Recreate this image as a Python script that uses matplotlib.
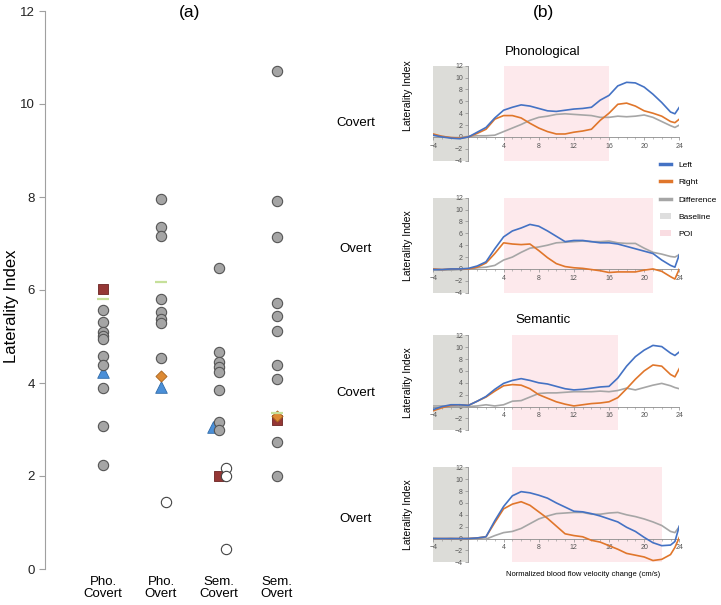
import numpy as np
import matplotlib
matplotlib.use("Agg")
import matplotlib.pyplot as plt
from matplotlib.lines import Line2D
from matplotlib.patches import Patch, Rectangle
from matplotlib.ticker import FixedLocator, MultipleLocator

plt.rcParams['font.family'] = ['Liberation Sans', 'DejaVu Sans']

# ---------------- panel (a): individual laterality indices ----------------
categories = ['Pho.\nCovert', 'Pho.\nOvert', 'Sem.\nCovert', 'Sem.\nOvert']

pho_covert_li = [5.58, 5.31, 5.10, 5.02, 4.94, 4.58, 4.39, 3.89, 3.08, 2.24]
pho_overt_li = [7.95, 7.36, 7.16, 5.80, 5.53, 5.37, 5.28, 4.53]
sem_covert_li = [6.48, 4.67, 4.46, 4.35, 4.24, 3.86, 3.17, 2.99]
sem_overt_li = [10.70, 7.92, 7.15, 5.71, 5.45, 5.12, 4.39, 4.08, 2.74, 1.99]
subject_li = [pho_covert_li, pho_overt_li, sem_covert_li, sem_overt_li]

right_lat_li = [[], [1.45], [2.18, 1.99, 0.44], []]   # open circles
triangle_li = [4.24, 3.92, 3.06, np.nan]
diamond_li = [np.nan, 4.14, np.nan, 3.28]
square_li = [6.02, np.nan, 1.99, 3.20]
mean_li = [5.81, 6.17, np.nan, 3.36]

# ---------------- panel (b): LI time courses ----------------
t = [-4, -3, -2, -1, 0, 1, 2, 3, 4, 5, 6, 7, 8, 9, 10, 11, 12, 13, 14, 15,
     16, 17, 18, 19, 20, 21, 22, 23, 23.5, 24]

pho_cov_left = [0.3, 0.0, -0.2, -0.3, 0.0, 0.8, 1.6, 3.2, 4.5, 5.0, 5.4, 5.2, 4.8, 4.4, 4.3,
                4.5, 4.7, 4.8, 5.0, 6.2, 7.0, 8.6, 9.2, 9.1, 8.4, 7.2, 5.8, 4.2, 3.9, 5.0]
pho_cov_right = [0.5, 0.1, -0.1, -0.2, 0.0, 0.6, 1.3, 3.0, 3.6, 3.6, 3.2, 2.3, 1.5, 0.9, 0.5,
                 0.5, 0.8, 1.0, 1.3, 2.8, 4.0, 5.5, 5.7, 5.2, 4.4, 4.0, 3.5, 2.6, 2.4, 3.0]
pho_cov_diff = [0.3, 0.1, -0.1, -0.1, 0.1, 0.2, 0.2, 0.3, 0.9, 1.5, 2.1, 2.8, 3.3, 3.5, 3.8,
                3.9, 3.8, 3.7, 3.6, 3.3, 3.3, 3.5, 3.4, 3.5, 3.7, 3.3, 2.6, 1.9, 1.6, 2.0]

pho_ovt_left = [-0.1, -0.1, 0.0, 0.0, 0.1, 0.5, 1.2, 3.4, 5.4, 6.4, 6.9, 7.5, 7.2, 6.4, 5.5,
                4.6, 4.8, 4.8, 4.6, 4.4, 4.4, 4.2, 3.8, 3.4, 3.0, 2.6, 1.5, 0.6, 0.3, 2.4]
pho_ovt_right = [0.0, -0.1, 0.0, 0.0, 0.0, 0.3, 1.0, 2.6, 4.4, 4.2, 4.1, 4.2, 3.1, 1.9, 0.9,
                 0.4, 0.2, 0.1, -0.1, -0.3, -0.6, -0.5, -0.5, -0.5, -0.2, 0.0, -0.4, -1.3, -1.7, 0.0]
pho_ovt_diff = [-0.2, -0.2, -0.2, -0.1, 0.0, 0.2, 0.3, 0.6, 1.5, 2.0, 2.8, 3.5, 3.7, 4.0, 4.4,
                4.5, 4.6, 4.7, 4.6, 4.6, 4.7, 4.4, 4.3, 4.3, 3.5, 2.8, 2.5, 2.1, 2.0, 2.4]

sem_cov_left = [-0.5, 0.0, 0.3, 0.3, 0.2, 0.9, 1.7, 2.9, 3.9, 4.4, 4.7, 4.4, 4.0, 3.8, 3.4,
                3.0, 2.8, 2.9, 3.1, 3.3, 3.4, 4.8, 6.8, 8.4, 9.5, 10.3, 10.1, 9.0, 8.6, 9.2]
sem_cov_right = [-0.7, -0.2, 0.2, 0.3, 0.2, 0.9, 1.6, 2.6, 3.5, 3.7, 3.6, 3.0, 2.0, 1.4, 0.8,
                 0.4, 0.1, 0.3, 0.5, 0.6, 0.8, 1.5, 3.0, 4.6, 6.0, 7.0, 6.8, 5.4, 5.0, 6.4]
sem_cov_diff = [0.1, 0.1, 0.0, 0.0, 0.0, 0.1, 0.3, 0.1, 0.3, 0.9, 1.0, 1.6, 2.2, 2.3, 2.3,
                2.4, 2.5, 2.5, 2.5, 2.6, 2.5, 2.7, 3.1, 2.8, 3.2, 3.6, 3.9, 3.5, 3.2, 3.0]

sem_ovt_left = [0.0, 0.0, 0.0, 0.0, 0.0, 0.1, 0.3, 3.0, 5.4, 7.2, 7.9, 7.7, 7.3, 6.8, 6.0,
                5.3, 4.6, 4.5, 4.2, 3.8, 3.3, 2.8, 1.9, 1.2, 0.2, -0.7, -1.2, -1.1, -0.5, 2.1]
sem_ovt_right = [0.0, 0.0, 0.0, 0.0, 0.0, 0.1, 0.3, 2.7, 5.0, 5.8, 6.2, 5.6, 4.5, 3.4, 2.1,
                 0.8, 0.5, 0.3, -0.3, -0.6, -1.2, -1.8, -2.5, -2.8, -3.1, -3.7, -3.5, -2.7, -1.5, 0.2]
sem_ovt_diff = [0.0, -0.1, 0.0, -0.1, 0.0, 0.0, -0.1, 0.5, 1.0, 1.2, 1.7, 2.5, 3.3, 3.8, 4.2,
                4.3, 4.4, 4.4, 4.1, 4.1, 4.3, 4.4, 4.0, 3.7, 3.3, 2.8, 2.2, 1.2, 1.0, 2.0]

baseline_win = (-4, 0)
poi_wins = [(4, 16), (4, 21), (5, 17), (5, 22)]
row_names = ['Covert', 'Overt', 'Covert', 'Overt']

BLUE, ORANGE, GREY = '#4472C4', '#E0762B', '#A6A6A6'
BASE_COL, POI_COL = '#dcdcd8', '#fde9ec'

fig = plt.figure(figsize=(7.21, 6.05), dpi=100)
W, H = 721.0, 605.0

# ---------------- draw panel (a) ----------------
ax = fig.add_axes([45 / W, 1 - 569 / H, 290 / W, 558 / H])
xpos = np.arange(1, len(categories) + 1)
tri_dx = [0, 0, -0.11, 0]
open_dx = [0, 0.09, 0.12, 0]

for i, x in enumerate(xpos):
    ax.scatter([x + tri_dx[i]], [triangle_li[i]], marker='^', s=70, color='#4a8fd8',
               edgecolor='#2f6aa8', linewidth=0.6, zorder=2)
    ax.scatter([x] * len(subject_li[i]), subject_li[i], s=55, color='#a5a5a5',
               edgecolor='#555555', linewidth=0.8, zorder=3)
    ax.scatter([x], [square_li[i]], marker='s', s=55, color='#953735',
               edgecolor='#6b2322', linewidth=0.6, zorder=4)
    ax.scatter([x + open_dx[i]] * len(right_lat_li[i]), right_lat_li[i], s=55,
               color='white', edgecolor='#444444', linewidth=0.8, zorder=5)
    ax.scatter([x], [diamond_li[i]], marker='D', s=32, color='#dd8a34',
               edgecolor='#a8631f', linewidth=0.6, zorder=5)
    ax.scatter([x], [mean_li[i]], marker='_', s=70, color='#c6e09a',
               linewidth=1.6, zorder=6)

ax.set_xlim(0, 5)
ax.set_ylim(0, 12)
ax.set_yticks(range(0, 13, 2))
ax.set_xticks(xpos)
ax.set_xticklabels(categories, fontsize=9.5, linespacing=1.05)
ax.tick_params(axis='x', length=0, pad=5)
ax.tick_params(axis='y', length=4, color='#a0a0a0', labelsize=9.5, labelcolor='#222222')
for s in ['top', 'right', 'bottom']:
    ax.spines[s].set_visible(False)
ax.spines['left'].set_color('#a0a0a0')
ax.spines['left'].set_linewidth(0.8)
fig.text(12 / W, 1 - 306 / H, 'Laterality Index', rotation=90, fontsize=12,
         ha='center', va='center')
fig.text(190 / W, 1 - 13 / H, '(a)', fontsize=12.5, ha='center', va='center')

# ---------------- draw panel (b) ----------------
series = [
    (pho_cov_left, pho_cov_right, pho_cov_diff),
    (pho_ovt_left, pho_ovt_right, pho_ovt_diff),
    (sem_cov_left, sem_cov_right, sem_cov_diff),
    (sem_ovt_left, sem_ovt_right, sem_ovt_diff),
]
bottoms_px = [160.7, 292.7, 430.3, 562.3]
row_label_px = [123, 249, 393, 519]
ylabel_y = [0.68, 0.5, 0.5, 0.5]

for k, (left, right, diff) in enumerate(series):
    bx = fig.add_axes([433.3 / W, 1 - bottoms_px[k] / H, 246 / W, 95 / H])
    bx.add_patch(Rectangle((baseline_win[0], -4), baseline_win[1] - baseline_win[0], 16,
                           color=BASE_COL, lw=0, zorder=0))
    p0, p1 = poi_wins[k]
    bx.add_patch(Rectangle((p0, -4), p1 - p0, 16, color=POI_COL, lw=0, zorder=0))
    bx.plot(t, diff, color=GREY, lw=1.2, zorder=3)
    bx.plot(t, right, color=ORANGE, lw=1.2, zorder=4)
    bx.plot(t, left, color=BLUE, lw=1.2, zorder=5)
    bx.set_xlim(-4, 24)
    bx.set_ylim(-4, 12)
    bx.spines['left'].set_position(('data', 0))
    bx.spines['bottom'].set_position(('data', 0))
    for s in ['top', 'right']:
        bx.spines[s].set_visible(False)
    for s in ['left', 'bottom']:
        bx.spines[s].set_color('#8c8c8c')
        bx.spines[s].set_linewidth(0.6)
        bx.spines[s].set_zorder(2)
    bx.xaxis.set_major_locator(FixedLocator([-4, 4, 8, 12, 16, 20, 24]))
    bx.xaxis.set_minor_locator(MultipleLocator(1))
    bx.set_yticks(range(-4, 13, 2))
    bx.tick_params(axis='both', which='major', labelsize=5, labelcolor='#555555',
                   color='#8c8c8c', length=2.5, width=0.5, pad=1.5)
    bx.tick_params(axis='x', which='minor', color='#8c8c8c', length=1.5, width=0.4)
    bx.patch.set_alpha(0)
    bx.set_ylabel('Laterality Index', fontsize=7.5)
    bx.yaxis.set_label_coords(-0.083, ylabel_y[k])
    fig.text(356 / W, 1 - row_label_px[k] / H, row_names[k], fontsize=9.5,
             ha='center', va='center')
    if k == 3:
        fig.text(583 / W, 1 - 575 / H, 'Normalized blood flow velocity change (cm/s)',
                 fontsize=5.5, ha='center', va='center')

fig.text(543 / W, 1 - 13 / H, '(b)', fontsize=12.5, ha='center', va='center')
fig.text(543 / W, 1 - 52 / H, 'Phonological', fontsize=9.5, ha='center', va='center')
fig.text(543 / W, 1 - 320 / H, 'Semantic', fontsize=9.5, ha='center', va='center')

handles = [
    Line2D([], [], color=BLUE, lw=2.5),
    Line2D([], [], color=ORANGE, lw=2.5),
    Line2D([], [], color=GREY, lw=2.5),
    Patch(facecolor='#dedede', edgecolor='none'),
    Patch(facecolor='#f9dde2', edgecolor='none'),
]
fig.legend(handles, ['Left', 'Right', 'Difference', 'Baseline', 'POI'],
           loc='upper left', bbox_to_anchor=(660 / W, 1 - 161 / H), frameon=False,
           fontsize=6, handlelength=1.3, handleheight=0.8, handletextpad=0.9,
           labelspacing=1.1, borderpad=0, borderaxespad=0)

fig.savefig('out.png', dpi=100)
